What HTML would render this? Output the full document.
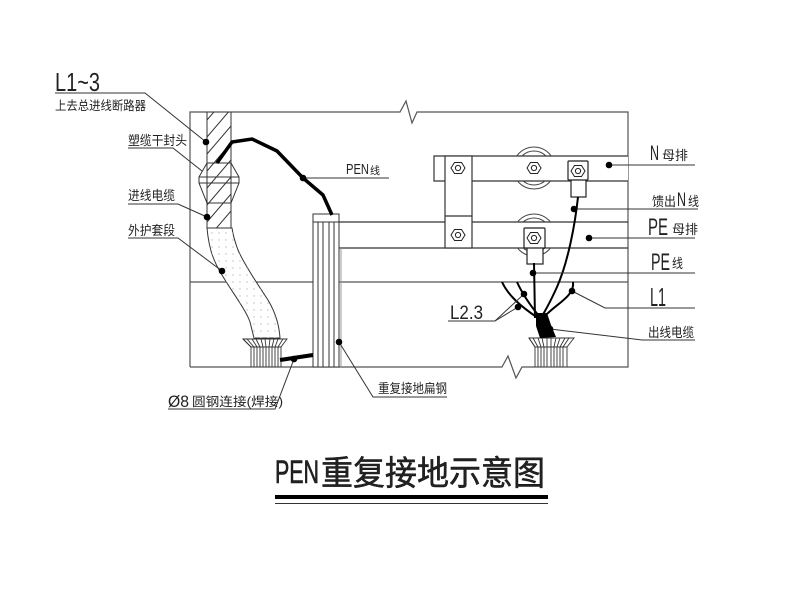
<!DOCTYPE html>
<html><head><meta charset="utf-8"><style>
html,body{margin:0;padding:0;background:#fff;}
svg{display:block;}
text{font-family:"Liberation Sans","Noto Sans CJK SC",sans-serif;fill:#222;}
</style></head><body>
<svg width="800" height="600" viewBox="0 0 800 600" xmlns="http://www.w3.org/2000/svg">
<defs>
<pattern id="dots" patternUnits="userSpaceOnUse" width="7" height="7">
<circle cx="2" cy="2" r="0.7" fill="#bbb"/>
</pattern>
<clipPath id="col"><rect x="207" y="112" width="24" height="116"/></clipPath>
<clipPath id="insN"><rect x="500" y="130" width="70" height="26"/><rect x="500" y="181" width="70" height="30"/></clipPath>
<clipPath id="insP"><rect x="500" y="200" width="70" height="22"/><rect x="500" y="248" width="70" height="30"/></clipPath>
</defs>
<rect width="800" height="600" fill="#fff"/>

<!-- Box -->
<g stroke="#555" stroke-width="1.2" fill="none">
<polyline points="190,367 190,112 400,112 406,101 412,123 417,112 628,112 628,367 522,367 516,378 508,356 502,367 190,367"/>
<line x1="190" y1="282" x2="628" y2="282"/>
</g>

<!-- Bus bars -->
<g stroke="#333" stroke-width="1.2" fill="#fff">
<line x1="339" y1="222" x2="628" y2="222"/>
<line x1="339" y1="248" x2="628" y2="248"/>
<path d="M628,156 L434,156 L434,181 L628,181" />
</g>
<!-- insulators -->
<g stroke="#444" stroke-width="1" fill="none">
<g clip-path="url(#insN)"><circle cx="534" cy="168" r="21"/><circle cx="534" cy="168" r="17"/></g>
<g clip-path="url(#insP)"><circle cx="534" cy="235" r="21"/><circle cx="534" cy="235" r="17"/></g>
</g>
<!-- clamp -->
<rect x="445" y="156" width="27" height="92" fill="#fff" stroke="#333" stroke-width="1.2"/>
<line x1="445" y1="216" x2="472" y2="216" stroke="#333" stroke-width="1.2"/>

<!-- Lugs -->
<g stroke="#222" stroke-width="1.2" fill="#fff">
<rect x="571" y="179" width="15" height="18"/>
<rect x="568" y="161" width="20" height="19" rx="1"/>
<rect x="527" y="247" width="16" height="17"/>
<rect x="524" y="228" width="21" height="20" rx="1"/>
</g>
<!-- Nuts -->
<g stroke="#222" stroke-width="1" fill="#fff">
<g transform="translate(458,168)"><polygon points="-7,0 -3.5,-5.5 3.5,-5.5 7,0 3.5,5.5 -3.5,5.5"/><circle r="2.6"/></g>
<g transform="translate(534,168)"><polygon points="-7,0 -3.5,-5.5 3.5,-5.5 7,0 3.5,5.5 -3.5,5.5"/><circle r="2.6"/></g>
<g transform="translate(578,171)"><polygon points="-7,0 -3.5,-5.5 3.5,-5.5 7,0 3.5,5.5 -3.5,5.5"/><circle r="2.6"/></g>
<g transform="translate(458,235)"><polygon points="-7,0 -3.5,-5.5 3.5,-5.5 7,0 3.5,5.5 -3.5,5.5"/><circle r="2.6"/></g>
<g transform="translate(534,238)"><polygon points="-7,0 -3.5,-5.5 3.5,-5.5 7,0 3.5,5.5 -3.5,5.5"/><circle r="2.6"/></g>
</g>

<!-- Flat steel -->
<g stroke="#333" stroke-width="1" fill="#fff">
<rect x="313" y="214" width="26" height="153"/>
<line x1="313" y1="222" x2="339" y2="222"/>
<line x1="318" y1="222" x2="318" y2="367"/>
<line x1="323" y1="222" x2="323" y2="367"/>
<line x1="329" y1="222" x2="329" y2="367"/>
<line x1="334" y1="222" x2="334" y2="367"/>
</g>
<line x1="341" y1="248" x2="341" y2="367" stroke="#999" stroke-width="1"/>

<!-- Left conduit -->
<g stroke="#333" stroke-width="1" fill="none">
<polygon points="207,163 231,163 239,177 239,183 231,203 207,203 199,183 199,177" fill="#fff"/>
<line x1="199" y1="177" x2="239" y2="177"/>
<line x1="199" y1="183" x2="239" y2="183"/>
<line x1="207" y1="112" x2="207" y2="228"/>
<line x1="231" y1="112" x2="231" y2="228"/>
<line x1="207" y1="228" x2="232" y2="228"/>
<g clip-path="url(#col)">
<line x1="207" y1="120" x2="231" y2="92"/>
<line x1="207" y1="137" x2="231" y2="109"/>
<line x1="207" y1="154" x2="231" y2="126"/>
<line x1="207" y1="171" x2="231" y2="143"/>
<line x1="207" y1="188" x2="231" y2="160"/>
<line x1="207" y1="205" x2="231" y2="177"/>
<line x1="207" y1="222" x2="231" y2="194"/>
<line x1="207" y1="239" x2="231" y2="211"/>
<line x1="207" y1="256" x2="231" y2="228"/>
</g>
</g>
<!-- sleeve -->
<path d="M207,228 C209,250 214,262 222,275 C232,292 246,310 250,322 L254,338 L280,338 C279,322 274,310 268,300 C258,285 243,262 238,250 C235,242 233,235 232,228 Z" fill="#fff" stroke="#333" stroke-width="1"/>
<path d="M207,228 C209,250 214,262 222,275 C232,292 246,310 250,322 L254,338 L280,338 C279,322 274,310 268,300 C258,285 243,262 238,250 C235,242 233,235 232,228 Z" fill="url(#dots)" stroke="none"/>

<!-- Ground piles -->
<g stroke="#333" stroke-width="0.9" fill="none">
<polygon points="243,339 287,339 281,347 251,347" fill="#fff"/>
<line x1="251" y1="347" x2="243" y2="339"/><line x1="254" y1="347" x2="247" y2="339"/><line x1="257" y1="347" x2="252" y2="339"/><line x1="260" y1="347" x2="256" y2="339"/><line x1="263" y1="347" x2="261" y2="339"/><line x1="266" y1="347" x2="265" y2="339"/><line x1="269" y1="347" x2="270" y2="339"/><line x1="272" y1="347" x2="274" y2="339"/><line x1="275" y1="347" x2="278" y2="339"/><line x1="278" y1="347" x2="283" y2="339"/>
<line x1="251" y1="347" x2="251" y2="367"/><line x1="254" y1="347" x2="254" y2="367"/><line x1="257" y1="347" x2="257" y2="367"/><line x1="260" y1="347" x2="260" y2="367"/><line x1="263" y1="347" x2="263" y2="367"/><line x1="266" y1="347" x2="266" y2="367"/><line x1="269" y1="347" x2="269" y2="367"/><line x1="272" y1="347" x2="272" y2="367"/><line x1="275" y1="347" x2="275" y2="367"/><line x1="278" y1="347" x2="278" y2="367"/><line x1="281" y1="347" x2="281" y2="367"/>

<polygon points="529,338 574,338 567,347 535,347" fill="#fff"/>
<line x1="535" y1="347" x2="529" y2="338"/><line x1="538" y1="347" x2="533" y2="338"/><line x1="541" y1="347" x2="538" y2="338"/><line x1="544" y1="347" x2="542" y2="338"/><line x1="547" y1="347" x2="547" y2="338"/><line x1="551" y1="347" x2="551" y2="338"/><line x1="554" y1="347" x2="556" y2="338"/><line x1="557" y1="347" x2="560" y2="338"/><line x1="560" y1="347" x2="565" y2="338"/><line x1="563" y1="347" x2="569" y2="338"/>
<line x1="535" y1="347" x2="535" y2="367"/><line x1="538" y1="347" x2="538" y2="367"/><line x1="541" y1="347" x2="541" y2="367"/><line x1="544" y1="347" x2="544" y2="367"/><line x1="547" y1="347" x2="547" y2="367"/><line x1="551" y1="347" x2="551" y2="367"/><line x1="554" y1="347" x2="554" y2="367"/><line x1="557" y1="347" x2="557" y2="367"/><line x1="560" y1="347" x2="560" y2="367"/><line x1="563" y1="347" x2="563" y2="367"/><line x1="567" y1="347" x2="567" y2="367"/>
</g>

<!-- PEN wire & round steel -->
<polyline points="217,163 232,142 252,139 277,151 303,178 323,195 332,215" fill="none" stroke="#000" stroke-width="3.5" stroke-linejoin="miter"/>
<line x1="280" y1="360" x2="313" y2="355" stroke="#000" stroke-width="4"/>

<!-- outgoing wires -->
<g stroke="#000" stroke-width="2" fill="none">
<path d="M578,197 C575,225 568,262 557,287 C552,298 547,308 542,316"/>
<path d="M534,263 L535,318"/>
<path d="M502,282 C508,295 520,306 538,318"/>
<path d="M517,282 C522,293 530,305 539,316"/>
<path d="M573,282 C575,296 556,304 545,316"/>
</g>
<polygon points="536,313 547,313 551,325 556,337 540,338 536,326" fill="#000"/>

<!-- Leaders -->
<g stroke="#333" stroke-width="1" fill="none">
<polyline points="55,93 145,93 206,142"/>
<polyline points="128,148 173,148 202,171"/>
<polyline points="128,204 178,204 207,217"/>
<polyline points="128,238 178,238 222,271"/>
<line x1="303" y1="178" x2="389" y2="178"/>
<polyline points="168,409 275,409 294,359"/>
<polyline points="339,342 373,397 447,397"/>
<line x1="609" y1="165" x2="695" y2="165"/>
<line x1="574" y1="209" x2="698" y2="209"/>
<line x1="589" y1="238" x2="695" y2="238"/>
<line x1="533" y1="273" x2="695" y2="273"/>
<polyline points="572,291 605,308 695,308"/>
<polyline points="550,329 642,340 695,340"/>
<polyline points="524,294 495,321 448,321"/>
<line x1="518" y1="307" x2="495" y2="321"/>
</g>
<g fill="#000">
<circle cx="206" cy="142" r="3.3"/>
<circle cx="207" cy="217" r="3.3"/>
<circle cx="222" cy="271" r="3.3"/>
<circle cx="303" cy="178" r="3.3"/>
<circle cx="294" cy="359" r="3.3"/>
<circle cx="339" cy="342" r="3.3"/>
<circle cx="609" cy="165" r="3.3"/>
<circle cx="574" cy="209" r="3.3"/>
<circle cx="589" cy="238" r="3.3"/>
<circle cx="533" cy="273" r="3.3"/>
<circle cx="572" cy="291" r="3.3"/>
<circle cx="550" cy="329" r="3.3"/>
<circle cx="524" cy="294" r="3.3"/>
<circle cx="518" cy="307" r="3.3"/>
</g>

<!-- Labels left -->
<text x="55" y="91" font-size="26" textLength="45" lengthAdjust="spacingAndGlyphs">L1~3</text>
<text x="55" y="110" font-size="12.5" textLength="91" lengthAdjust="spacingAndGlyphs">上去总进线断路器</text>
<text x="128" y="145" font-size="13" textLength="59" lengthAdjust="spacingAndGlyphs">塑缆干封头</text>
<text x="128" y="200" font-size="13" textLength="47" lengthAdjust="spacingAndGlyphs">进线电缆</text>
<text x="128" y="235" font-size="13" textLength="47" lengthAdjust="spacingAndGlyphs">外护套段</text>
<text x="346" y="174" font-size="15" textLength="23" lengthAdjust="spacingAndGlyphs">PEN</text>
<text x="370" y="174" font-size="10.5" textLength="10" lengthAdjust="spacingAndGlyphs">线</text>
<text x="168" y="407" font-size="17" textLength="21" lengthAdjust="spacingAndGlyphs">Ø8</text>
<text x="192" y="406" font-size="12.5" textLength="91" lengthAdjust="spacingAndGlyphs">圆钢连接(焊接)</text>
<text x="378" y="393" font-size="13" textLength="69" lengthAdjust="spacingAndGlyphs">重复接地扁钢</text>

<!-- Labels right -->
<text x="650" y="160" font-size="21" textLength="9" lengthAdjust="spacingAndGlyphs">N</text>
<text x="662" y="160" font-size="13" textLength="26" lengthAdjust="spacingAndGlyphs">母排</text>
<text x="652" y="206" font-size="13" textLength="24" lengthAdjust="spacingAndGlyphs">馈出</text>
<text x="677" y="206" font-size="19" textLength="9" lengthAdjust="spacingAndGlyphs">N</text>
<text x="688" y="206" font-size="13" textLength="11" lengthAdjust="spacingAndGlyphs">线</text>
<text x="648" y="235" font-size="24" textLength="20" lengthAdjust="spacingAndGlyphs">PE</text>
<text x="672" y="234" font-size="13" textLength="26" lengthAdjust="spacingAndGlyphs">母排</text>
<text x="651" y="270" font-size="24" textLength="19" lengthAdjust="spacingAndGlyphs">PE</text>
<text x="672" y="268" font-size="13" textLength="11" lengthAdjust="spacingAndGlyphs">线</text>
<text x="650" y="306" font-size="26" textLength="16" lengthAdjust="spacingAndGlyphs">L1</text>
<text x="648" y="337" font-size="13" textLength="46" lengthAdjust="spacingAndGlyphs">出线电缆</text>
<text x="450" y="319" font-size="19" textLength="33" lengthAdjust="spacingAndGlyphs">L2.3</text>

<!-- Title -->
<text x="275" y="483" font-size="32" textLength="44" lengthAdjust="spacingAndGlyphs" stroke="#111" stroke-width="0.6">PEN</text>
<text x="321" y="485" font-size="34" textLength="224" lengthAdjust="spacingAndGlyphs" stroke="#111" stroke-width="0.5">重复接地示意图</text>
<rect x="275" y="495" width="273" height="4" fill="#000"/>
<rect x="275" y="503" width="273" height="1" fill="#333"/>
</svg>
</body></html>
